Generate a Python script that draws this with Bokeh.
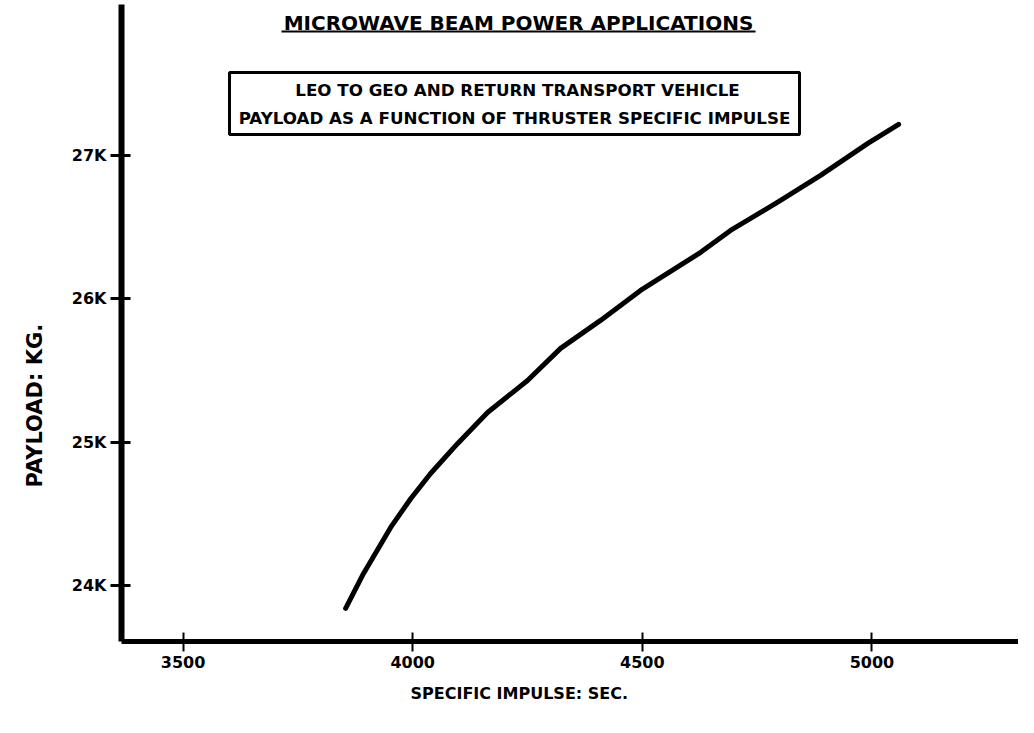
import math
from bokeh.plotting import figure
from bokeh.models import Label, BoxAnnotation, FixedTicker, Range1d, Title
from bokeh.embed import file_html
from bokeh.resources import INLINE

# ---- data ----
impulse = [3854, 3893, 3952, 3996, 4039, 4098, 4163, 4250, 4322, 4409,
           4496, 4627, 4692, 4801, 4888, 4991, 5058]
payload = [23840, 24084, 24405, 24607, 24781, 24991, 25207, 25430, 25654, 25849,
           26058, 26324, 26477, 26686, 26861, 27084, 27217]
x_ticks = [3500, 4000, 4500, 5000]
y_ticks = [24000, 25000, 26000, 27000]
y_tick_labels = ["24K", "25K", "26K", "27K"]

title_text = "MICROWAVE BEAM POWER APPLICATIONS"
box_line1 = "LEO TO GEO AND RETURN TRANSPORT VEHICLE"
box_line2 = "PAYLOAD AS A FUNCTION OF THRUSTER SPECIFIC IMPULSE"
x_label = "SPECIFIC IMPULSE:   SEC."
y_label = "PAYLOAD: KG."

# ---- layout ----
W, H = 1018, 717
ML, MR, MT, MB = 121, 0, 4, 76
X0, X1 = 3366, 5319
Y0, Y1 = 23609, 28053
FW, FH = W - ML - MR, H - MT - MB
FONT = "DejaVu Sans"


def dx(px):
    return X0 + (px - ML) / FW * (X1 - X0)


def dy(py):
    return Y1 - (py - MT) / FH * (Y1 - Y0)


p = figure(width=W, height=H, output_backend="svg", toolbar_location=None,
           x_range=Range1d(X0, X1), y_range=Range1d(Y0, Y1),
           min_border_left=ML, min_border_right=MR, min_border_top=MT,
           min_border_bottom=MB)
p.outline_line_color = None
p.grid.visible = False
p.background_fill_color = "white"
p.border_fill_color = "white"

p.line(impulse, payload, line_color="black", line_width=5, line_cap="round",
       line_join="round")

for ax in (p.xaxis[0], p.yaxis[0]):
    ax.axis_line_color = "black"
    ax.major_tick_line_color = "black"
    ax.minor_tick_line_color = None
    ax.major_label_text_font = FONT
    ax.major_label_text_font_style = "bold"
    ax.major_label_text_color = "black"
    ax.major_label_text_font_size = "16px"

p.xaxis[0].ticker = FixedTicker(ticks=x_ticks)
p.xaxis[0].axis_line_width = 5
p.xaxis[0].major_tick_line_width = 2
p.xaxis[0].major_tick_in = 9
p.xaxis[0].major_tick_out = 10
p.xaxis[0].major_label_standoff = 4

p.yaxis[0].ticker = FixedTicker(ticks=y_ticks)
p.yaxis[0].major_label_overrides = {t: l for t, l in zip(y_ticks, y_tick_labels)}
p.yaxis[0].axis_line_width = 6
p.yaxis[0].major_tick_line_width = 3
p.yaxis[0].major_tick_in = 9
p.yaxis[0].major_tick_out = 11
p.yaxis[0].major_label_standoff = 4

# Axis titles in the side panels
p.add_layout(Title(text=y_label, align="left", offset=154, vertical_align="top",
                   standoff=40, text_font=FONT, text_font_style="bold",
                   text_font_size="21px", text_color="black"), "left")
p.add_layout(Title(text=x_label, align="left", offset=289, vertical_align="bottom",
                   standoff=22, text_font=FONT, text_font_style="bold",
                   text_font_size="16px", text_color="black"), "below")

# Title with underline
p.add_layout(Label(x=dx(518), y=dy(22), text=title_text, text_align="center",
                   text_baseline="middle", text_font=FONT, text_font_style="bold",
                   text_font_size="20px", text_color="black"))
p.add_layout(BoxAnnotation(left=dx(281), right=dx(755), top=dy(30), bottom=dy(32),
                           fill_color="black", fill_alpha=1, line_color=None))

# Boxed subtitle
p.add_layout(BoxAnnotation(left=dx(229), right=dx(799), top=dy(72), bottom=dy(134),
                           fill_color="white", fill_alpha=1, line_color="black",
                           line_width=3, line_alpha=1))
p.add_layout(Label(x=dx(517), y=dy(89), text=box_line1, text_align="center",
                   text_baseline="middle", text_font=FONT, text_font_style="bold",
                   text_font_size="16.7px", text_color="black"))
p.add_layout(Label(x=dx(514), y=dy(117), text=box_line2, text_align="center",
                   text_baseline="middle", text_font=FONT, text_font_style="bold",
                   text_font_size="16.7px", text_color="black"))

open("out.html", "w").write(file_html(p, INLINE))
